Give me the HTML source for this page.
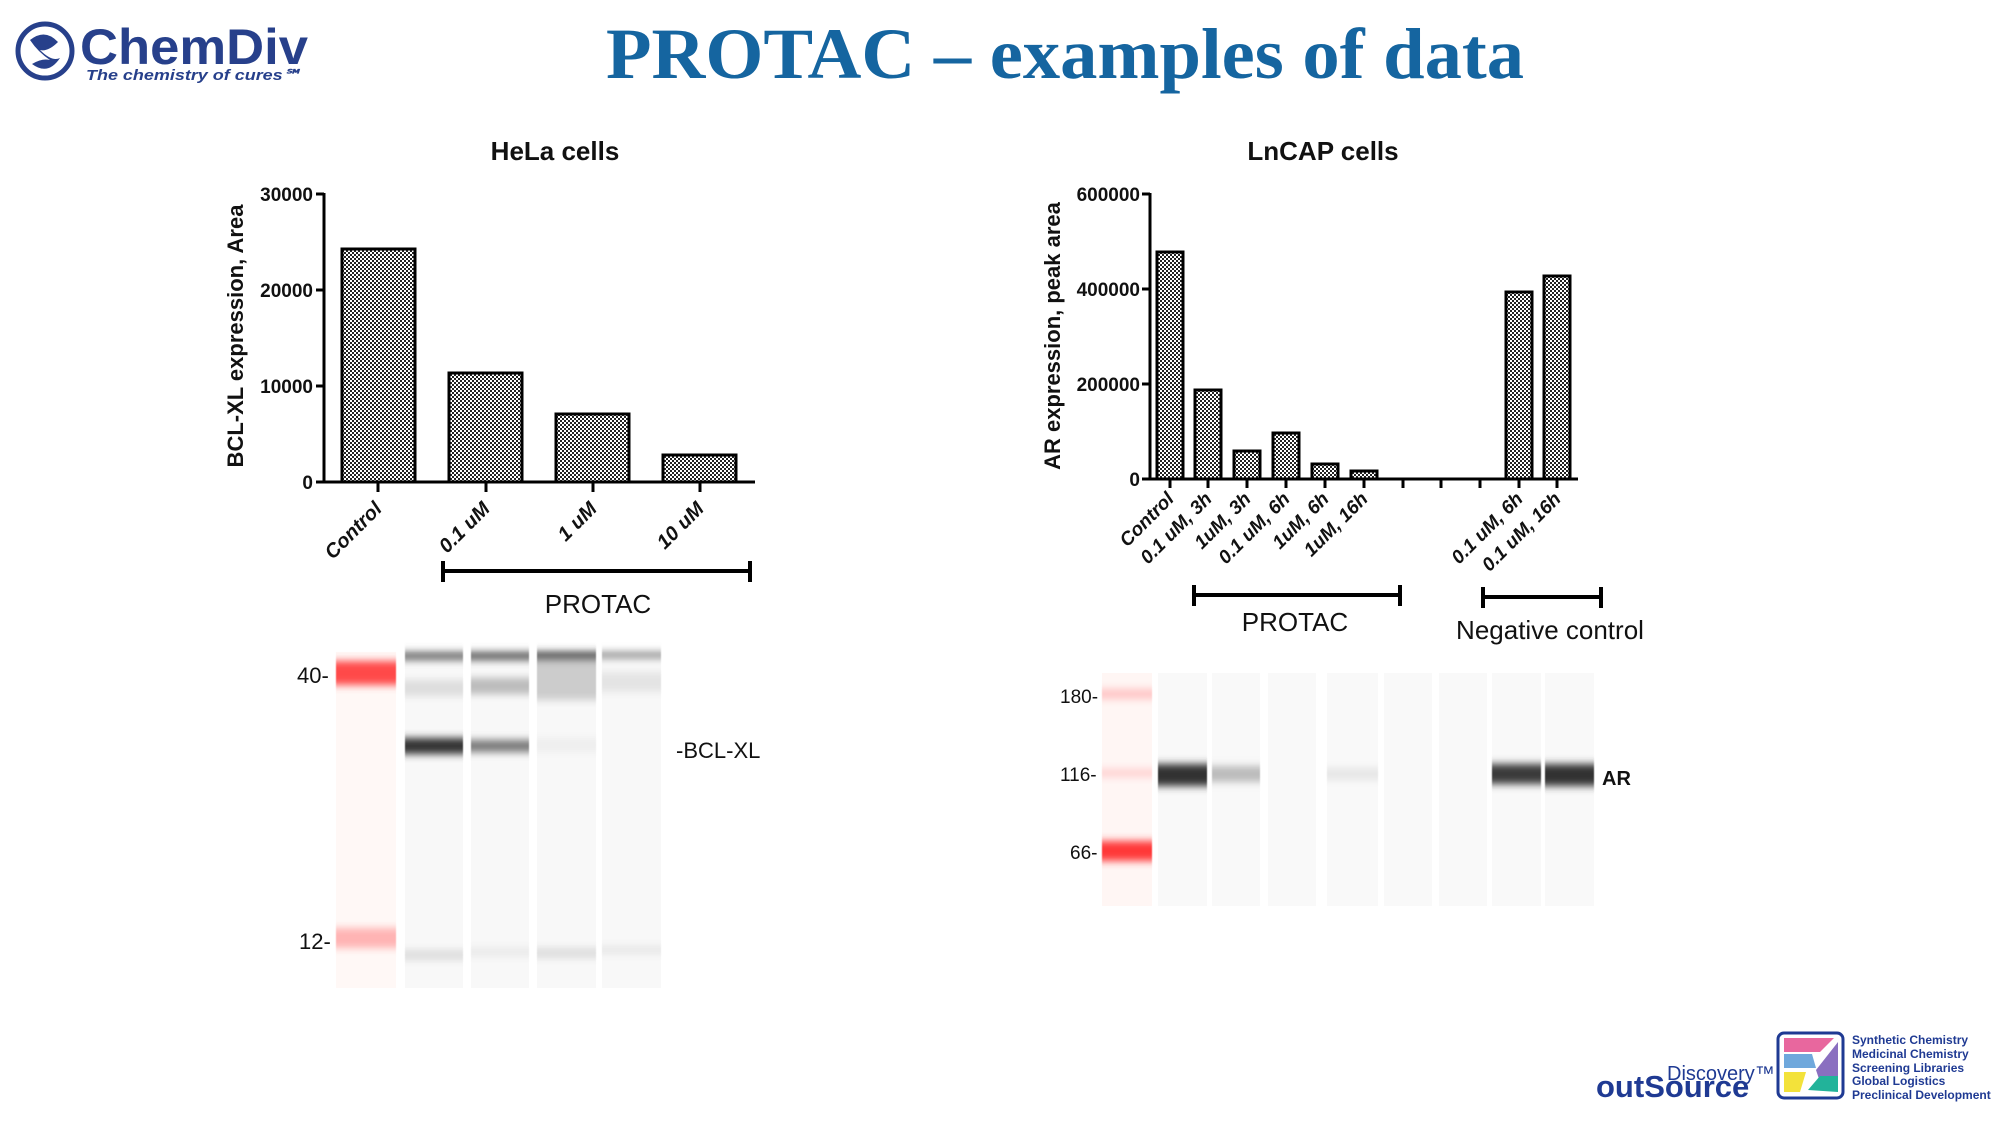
<!DOCTYPE html>
<html><head><meta charset="utf-8"><style>
html,body{margin:0;padding:0;background:#fff;}
svg{display:block;}
text{font-family:"Liberation Sans",Arial,sans-serif;}
</style></head><body>
<svg width="2000" height="1125" viewBox="0 0 2000 1125" xmlns="http://www.w3.org/2000/svg">
<defs>
<pattern id="chk" width="4" height="4" patternUnits="userSpaceOnUse">
<rect width="4" height="4" fill="#fff"/><rect width="2" height="2" fill="#222"/><rect x="2" y="2" width="2" height="2" fill="#222"/>
</pattern>
<linearGradient id="lg" x1="0" y1="0" x2="0" y2="1">
<stop offset="0" stop-color="#fff"/><stop offset="1" stop-color="#fff"/></linearGradient>
<filter id="bl" x="-20%" y="-200%" width="140%" height="500%"><feGaussianBlur stdDeviation="0.5 4"/></filter>
</defs>

<!-- ChemDiv logo -->
<circle cx="45" cy="51" r="27" fill="none" stroke="#27408b" stroke-width="5"/>
<path d="M30 40 Q45 28 58 42 Q48 52 40 50 Q52 62 60 58 Q48 76 32 64 Q42 58 50 60 Q38 52 30 40Z" fill="#27408b"/>
<text x="80" y="64" font-size="50" font-weight="bold" fill="#27408b" style="font-family:'Liberation Sans',sans-serif" textLength="228" lengthAdjust="spacingAndGlyphs">ChemDiv</text>
<text x="86" y="80" font-size="15" font-style="italic" font-weight="bold" fill="#27408b" textLength="215" lengthAdjust="spacingAndGlyphs">The chemistry of cures℠</text>

<!-- Title -->
<text x="1065" y="78" font-size="72" font-weight="bold" fill="#1565a0" text-anchor="middle" style="font-family:'Liberation Serif',serif" textLength="918" lengthAdjust="spacingAndGlyphs">PROTAC – examples of data</text>

<!-- HeLa chart -->
<text x="555" y="160" font-size="26" font-weight="bold" text-anchor="middle" fill="#111">HeLa cells</text>
<text transform="translate(243,336) rotate(-90)" font-size="22" font-weight="bold" text-anchor="middle" fill="#111">BCL-XL expression, Area</text>
<g stroke="#000" stroke-width="3" fill="none">
<line x1="324" y1="193" x2="324" y2="482"/>
<line x1="316" y1="482" x2="755" y2="482"/>
<line x1="316" y1="194" x2="324" y2="194"/><line x1="316" y1="290" x2="324" y2="290"/><line x1="316" y1="386" x2="324" y2="386"/>
<line x1="378" y1="482" x2="378" y2="492"/><line x1="486" y1="482" x2="486" y2="492"/><line x1="593" y1="482" x2="593" y2="492"/><line x1="700" y1="482" x2="700" y2="492"/>
</g>
<g font-size="19" font-weight="bold" text-anchor="end" fill="#111">
<text x="313" y="201">30000</text><text x="313" y="297">20000</text><text x="313" y="393">10000</text><text x="313" y="489">0</text>
</g>
<g fill="url(#chk)" stroke="#000" stroke-width="3">
<rect x="342" y="249" width="73" height="233"/>
<rect x="449" y="373" width="73" height="109"/>
<rect x="556" y="414" width="73" height="68"/>
<rect x="663" y="455" width="73" height="27"/>
</g>
<g font-size="20" font-weight="bold" font-style="italic" text-anchor="end" fill="#111">
<text transform="translate(383,510) rotate(-45)">Control</text>
<text transform="translate(491,510) rotate(-45)">0.1 uM</text>
<text transform="translate(598,510) rotate(-45)">1 uM</text>
<text transform="translate(705,510) rotate(-45)">10 uM</text>
</g>
<g stroke="#000" stroke-width="4"><line x1="443" y1="571" x2="750" y2="571"/><line x1="443" y1="561" x2="443" y2="582"/><line x1="750" y1="561" x2="750" y2="582"/></g>
<text x="598" y="613" font-size="26" text-anchor="middle" fill="#111">PROTAC</text>

<!-- LnCAP chart -->
<text x="1323" y="160" font-size="26" font-weight="bold" text-anchor="middle" fill="#111">LnCAP cells</text>
<text transform="translate(1060,336) rotate(-90)" font-size="22" font-weight="bold" text-anchor="middle" fill="#111">AR expression, peak area</text>
<g stroke="#000" stroke-width="3" fill="none">
<line x1="1150" y1="193" x2="1150" y2="479"/>
<line x1="1142" y1="479" x2="1578" y2="479"/>
<line x1="1142" y1="194" x2="1150" y2="194"/><line x1="1142" y1="289" x2="1150" y2="289"/><line x1="1142" y1="384" x2="1150" y2="384"/>
<path d="M1170 479v9M1208 479v9M1247 479v9M1286 479v9M1325 479v9M1364 479v9M1403 479v9M1441 479v9M1480 479v9M1519 479v9M1557 479v9"/>
</g>
<g font-size="19" font-weight="bold" text-anchor="end" fill="#111">
<text x="1140" y="201">600000</text><text x="1140" y="296">400000</text><text x="1140" y="391">200000</text><text x="1140" y="486">0</text>
</g>
<g fill="url(#chk)" stroke="#000" stroke-width="3">
<rect x="1157" y="252" width="26" height="227"/>
<rect x="1195" y="390" width="26" height="89"/>
<rect x="1234" y="451" width="26" height="28"/>
<rect x="1273" y="433" width="26" height="46"/>
<rect x="1312" y="464" width="26" height="15"/>
<rect x="1351" y="471" width="26" height="8"/>
<rect x="1506" y="292" width="26" height="187"/>
<rect x="1544" y="276" width="26" height="203"/>
</g>
<g font-size="19" font-weight="bold" font-style="italic" text-anchor="end" fill="#111">
<text transform="translate(1175,500) rotate(-45)">Control</text>
<text transform="translate(1213,500) rotate(-45)">0.1 uM, 3h</text>
<text transform="translate(1252,500) rotate(-45)">1uM, 3h</text>
<text transform="translate(1291,500) rotate(-45)">0.1 uM, 6h</text>
<text transform="translate(1330,500) rotate(-45)">1uM, 6h</text>
<text transform="translate(1369,500) rotate(-45)">1uM, 16h</text>
<text transform="translate(1524,500) rotate(-45)">0.1 uM, 6h</text>
<text transform="translate(1562,500) rotate(-45)">0.1 uM, 16h</text>
</g>
<g stroke="#000" stroke-width="4"><line x1="1194" y1="595" x2="1400" y2="595"/><line x1="1194" y1="585" x2="1194" y2="606"/><line x1="1400" y1="585" x2="1400" y2="606"/>
<line x1="1483" y1="597" x2="1601" y2="597"/><line x1="1483" y1="587" x2="1483" y2="608"/><line x1="1601" y1="587" x2="1601" y2="608"/></g>
<text x="1295" y="631" font-size="26" text-anchor="middle" fill="#111">PROTAC</text>
<text x="1550" y="639" font-size="26" text-anchor="middle" fill="#111">Negative control</text>

<!-- Left gel -->
<rect x="336" y="652" width="60" height="336" fill="#fff8f6"/>
<rect x="336" y="661" width="60" height="24" fill="#ff4a4a" filter="url(#bl)"/>
<rect x="336" y="928" width="60" height="20" fill="#ffb3b3" filter="url(#bl)"/>
<g fill="#f8f8f8"><rect x="405" y="652" width="58" height="336"/><rect x="471" y="652" width="58" height="336"/><rect x="537" y="652" width="59" height="336"/><rect x="602" y="652" width="59" height="336"/></g>
<g filter="url(#bl)">
<rect x="405" y="652" width="58" height="8" fill="#666"/><rect x="471" y="652" width="58" height="8" fill="#555"/><rect x="537" y="652" width="59" height="10" fill="#333"/><rect x="602" y="652" width="59" height="6" fill="#888"/>
<rect x="405" y="680" width="58" height="16" fill="#ddd"/><rect x="471" y="678" width="58" height="16" fill="#bbb"/><rect x="537" y="660" width="59" height="40" fill="#ccc"/><rect x="602" y="672" width="59" height="20" fill="#e4e4e4"/>
<rect x="405" y="738" width="58" height="16" fill="#333"/><rect x="471" y="740" width="58" height="12" fill="#777"/><rect x="537" y="738" width="59" height="14" fill="#eee"/>
<rect x="405" y="950" width="58" height="10" fill="#ddd"/><rect x="471" y="948" width="58" height="8" fill="#e8e8e8"/><rect x="537" y="948" width="59" height="10" fill="#ddd"/><rect x="602" y="946" width="59" height="8" fill="#e6e6e6"/>
</g>
<g font-size="22" fill="#111" style="font-family:'DejaVu Sans',sans-serif"><text x="297" y="683">40-</text><text x="299" y="949">12-</text>
<text x="676" y="758">-BCL-XL</text></g>

<!-- Right gel -->
<rect x="1102" y="673" width="50" height="233" fill="#fff6f4"/>
<rect x="1102" y="689" width="50" height="10" fill="#ffc4c4" filter="url(#bl)"/>
<rect x="1102" y="769" width="50" height="8" fill="#ffd0d0" filter="url(#bl)"/>
<rect x="1102" y="841" width="50" height="20" fill="#ff3838" filter="url(#bl)"/>
<g fill="#f9f9f9"><rect x="1158" y="673" width="49" height="233"/><rect x="1212" y="673" width="48" height="233"/><rect x="1268" y="673" width="48" height="233"/><rect x="1327" y="673" width="51" height="233"/><rect x="1384" y="673" width="48" height="233"/><rect x="1439" y="673" width="48" height="233"/><rect x="1492" y="673" width="49" height="233"/><rect x="1545" y="673" width="49" height="233"/></g>
<g filter="url(#bl)">
<rect x="1158" y="764" width="49" height="22" fill="#333"/>
<rect x="1212" y="766" width="48" height="16" fill="#bbb"/>
<rect x="1327" y="768" width="51" height="12" fill="#e6e6e6"/>
<rect x="1492" y="764" width="49" height="20" fill="#3a3a3a"/>
<rect x="1545" y="764" width="49" height="22" fill="#333"/>
</g>
<g font-size="19" fill="#111" style="font-family:'DejaVu Sans',sans-serif"><text x="1060" y="703">180-</text><text x="1060" y="781">116-</text><text x="1070" y="859">66-</text></g>
<text x="1602" y="785" font-size="20" font-weight="bold" fill="#111">AR</text>

<!-- Bottom-right logo -->
<text x="1596" y="1097" font-size="31" font-weight="bold" fill="#1f3a93">outSource</text>
<text x="1667" y="1080" font-size="20" fill="#1f3a93">Discovery™</text>
<rect x="1778" y="1033" width="65" height="65" rx="6" fill="#fff" stroke="#1f3a93" stroke-width="3"/>
<path d="M1784 1038h50l-14 14h-36z" fill="#e8679e"/>
<path d="M1784 1054h28l4 14h-32z" fill="#6fa8dc"/>
<path d="M1838 1042v40h-18l-4-12z" fill="#8a6fc0"/>
<path d="M1784 1072h22l-6 20h-16z" fill="#f3e23a"/>
<path d="M1808 1090l12-14h18v16z" fill="#22b39a"/>
<g font-size="12" font-weight="bold" fill="#1f3a93"><text x="1852" y="1044">Synthetic Chemistry</text><text x="1852" y="1058">Medicinal Chemistry</text><text x="1852" y="1072">Screening Libraries</text><text x="1852" y="1085">Global Logistics</text><text x="1852" y="1099">Preclinical Development</text></g>
</svg>
</body></html>
